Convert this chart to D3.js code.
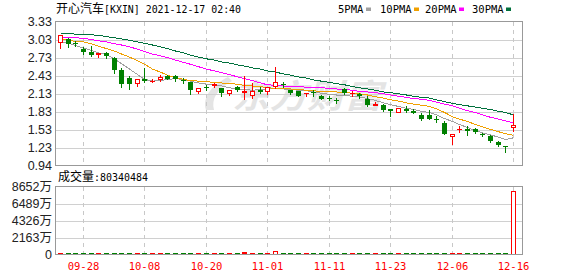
<!DOCTYPE html>
<html><head><meta charset="utf-8">
<script src="https://cdn.jsdelivr.net/npm/d3@7/dist/d3.min.js"></script>
<style>body{margin:0;background:#fff;} svg{display:block;}</style>
</head><body><svg id="c" width="578" height="276"></svg>
<script>
const dates = ["09-23","09-24","09-27","09-28","09-29","09-30","10-01","10-04","10-05","10-06",
"10-07","10-08","10-11","10-12","10-13","10-14","10-15","10-18","10-19","10-20",
"10-21","10-22","10-25","10-26","10-27","10-28","10-29","11-01","11-02","11-03",
"11-04","11-05","11-08","11-09","11-10","11-11","11-12","11-15","11-16","11-17",
"11-18","11-19","11-22","11-23","11-24","11-26","11-29","11-30","12-01","12-02",
"12-03","12-06","12-07","12-08","12-09","12-10","12-13","12-14","12-15","12-16"];
const open  = [2.97,3.04,2.97,2.88,2.83,2.78,2.80,2.72,2.53,2.39, 2.30,2.37,2.34,2.36,2.43,2.43,2.36,2.32,2.16,2.25,
               2.26,2.23,2.13,2.24,2.15,2.10,2.20,2.16,2.25,2.30, 2.19,2.17,2.13,2.16,2.10,2.06,2.03,2.21,2.12,2.13,
               2.04,1.93,1.95,1.87,1.81,1.87,1.85,1.77,1.78,1.71, 1.65,1.41,1.54,1.55,1.54,1.47,1.43,1.33,1.27,1.56];
const close = [3.11,2.96,2.96,2.83,2.77,2.80,2.76,2.52,2.30,2.29, 2.37,2.34,2.35,2.41,2.38,2.37,2.35,2.19,2.22,2.23,
               2.29,2.15,2.19,2.19,2.17,2.17,2.16,2.24,2.32,2.28, 2.15,2.10,2.15,2.14,2.05,2.04,2.02,2.14,2.14,2.09,
               1.95,1.96,1.86,1.84,1.89,1.85,1.81,1.72,1.72,1.70, 1.47,1.46,1.55,1.52,1.49,1.44,1.34,1.28,1.25,1.62];
const high  = [3.11,3.05,3.01,2.91,2.93,2.80,2.83,2.74,2.56,2.42, 2.37,2.56,2.37,2.45,2.44,2.44,2.39,2.33,2.23,2.27,
               2.31,2.23,2.20,2.26,2.43,2.31,2.24,2.25,2.58,2.32, 2.20,2.18,2.15,2.19,2.11,2.09,2.06,2.22,2.17,2.15,
               2.09,1.99,1.96,1.88,1.90,1.92,1.88,1.81,1.86,1.76, 1.68,1.46,1.60,1.60,1.56,1.48,1.44,1.34,1.27,1.80];
const low   = [2.89,2.91,2.92,2.79,2.76,2.74,2.73,2.48,2.24,2.21, 2.26,2.32,2.33,2.34,2.37,2.35,2.31,2.13,2.14,2.20,
               2.25,2.09,2.11,2.17,2.04,2.06,2.14,2.13,2.23,2.25, 2.13,2.09,2.10,2.10,2.04,2.02,1.98,2.13,2.09,2.06,
               1.92,1.93,1.85,1.76,1.81,1.82,1.81,1.70,1.71,1.66, 1.47,1.29,1.50,1.44,1.48,1.43,1.33,1.27,1.16,1.52];
const volume = [1500000,900000,600000,800000,700000,500000,700000,1600000,1800000,1100000,
                800000,1300000,600000,700000,500000,600000,500000,1200000,700000,500000,
                600000,900000,700000,600000,3200000,1500000,700000,900000,4300000,1000000,
                800000,900000,600000,500000,700000,600000,500000,800000,600000,700000,
                1200000,600000,900000,800000,700000,500000,500000,900000,800000,600000,
                1700000,1400000,800000,700000,600000,500000,900000,700000,1100000,80340484];
const ma5  = [3.00,2.97,2.93,2.89,2.85,2.81,2.78,2.71,2.63,2.54, 2.45,2.37,2.34,2.35,2.37,2.38,2.37,2.34,2.31,2.29,
              2.28,2.26,2.23,2.21,2.20,2.19,2.20,2.21,2.22,2.21, 2.20,2.19,2.18,2.16,2.14,2.12,2.11,2.10,2.09,2.08,
              2.05,2.02,1.98,1.95,1.92,1.89,1.87,1.84,1.82,1.78, 1.72,1.67,1.62,1.57,1.52,1.48,1.45,1.41,1.37,1.40];
const ma10 = [3.04,3.02,3.00,2.99,2.96,2.92,2.88,2.84,2.79,2.74, 2.68,2.62,2.54,2.49,2.44,2.40,2.37,2.35,2.34,2.33,
              2.32,2.31,2.30,2.29,2.27,2.26,2.25,2.23,2.22,2.21, 2.21,2.20,2.19,2.18,2.17,2.16,2.16,2.15,2.14,2.13,
              2.11,2.08,2.06,2.03,2.01,1.98,1.96,1.94,1.92,1.88, 1.82,1.75,1.71,1.67,1.62,1.58,1.54,1.50,1.47,1.44];
const ma20 = [3.07,3.06,3.06,3.05,3.03,3.01,2.99,2.96,2.94,2.91, 2.87,2.83,2.79,2.76,2.73,2.69,2.65,2.62,2.58,2.54,
              2.51,2.48,2.45,2.41,2.38,2.35,2.31,2.28,2.27,2.26, 2.25,2.25,2.24,2.24,2.23,2.22,2.21,2.20,2.19,2.17,
              2.16,2.15,2.13,2.11,2.09,2.07,2.05,2.04,2.02,1.99, 1.96,1.93,1.89,1.85,1.82,1.78,1.74,1.71,1.68,1.65];
const ma30 = [3.13,3.13,3.12,3.12,3.11,3.10,3.08,3.06,3.04,3.02, 2.99,2.97,2.94,2.91,2.88,2.84,2.81,2.77,2.74,2.71,
              2.69,2.66,2.64,2.61,2.59,2.56,2.54,2.51,2.49,2.46, 2.44,2.41,2.39,2.36,2.34,2.32,2.30,2.28,2.25,2.23,
              2.21,2.19,2.16,2.15,2.13,2.11,2.09,2.07,2.06,2.03, 2.00,1.97,1.95,1.93,1.91,1.89,1.87,1.84,1.82,1.78];
const priceTicks = [0.94,1.23875,1.5375,1.83625,2.135,2.43375,2.7325,3.03125,3.33];
const priceTickLabels = ["0.94","1.23","1.53","1.83","2.13","2.43","2.73","3.03","3.33"];
const volTicks = [0,21630000,43260000,64890000,86520000];
const volTickLabels = ["0","2163万","4326万","6489万","8652万"];
const dateTicks = ["09-28","10-08","10-20","11-01","11-11","11-23","12-06","12-16"];
const maNames = ["5PMA","10PMA","20PMA","30PMA"];
const maSeries = [ma5, ma10, ma20, ma30];
const maColors = ["#a0a0a0","#f0a000","#ff00ff","#00703c"];
const titleName = "开心汽车";
const titleRest = "[KXIN] 2021-12-17 02:40";
const volLabel = "成交量";
const volValue = ":80340484";

const RED = "#ff0000", GREEN = "#008000";
const svg = d3.select("#c");
const L = 55.5, R = 522.5;
const pT = 21.5, pB = 165.5, vT = 186.5, vB = 254.5;
const idx = d3.range(dates.length);
const x = d3.scaleBand().domain(idx).range([56, 517]);
const cx = i => Math.round(x(i) + x.bandwidth()/2) + 0.5;
const y = d3.scaleLinear().domain([0.94, 3.33]).range([pB, pT]);
const yv = d3.scaleLinear().domain([0, 86520000]).range([vB, vT]);
const py = v => Math.round(y(v)) + 0.5;

svg.append("rect").attr("width",578).attr("height",276).attr("fill","#fff");

// watermark
const wm = svg.append("g").attr("fill","#e4e4e4");
wm.append("path").attr("d","M228 77 C212 85 202 97 206 110 L214 110 C211 99 217 89 232 81 Z");
wm.append("text").attr("x",232).attr("y",108).attr("font-family","Noto Sans CJK SC")
  .attr("font-weight","bold").attr("font-style","italic").attr("font-size",33)
  .attr("textLength",150).attr("lengthAdjust","spacingAndGlyphs").text("东方财富");

// grid
const grid = svg.append("g").attr("shape-rendering","crispEdges");
priceTicks.slice(1,-1).forEach(t => {
  grid.append("line").attr("x1",L).attr("x2",R).attr("y1",py(t)).attr("y2",py(t)).attr("stroke","#d0d0d0");
});
volTicks.slice(1,-1).forEach(t => {
  const yy = Math.round(yv(t)) + 0.5;
  grid.append("line").attr("x1",L).attr("x2",R).attr("y1",yy).attr("y2",yy).attr("stroke","#d0d0d0");
});
dateTicks.forEach(d => {
  const i = dates.indexOf(d);
  [[pT,pB],[vT,vB]].forEach(([a,b]) => {
    grid.append("line").attr("x1",cx(i)).attr("x2",cx(i)).attr("y1",a).attr("y2",b)
      .attr("stroke","#c8c8c8").attr("stroke-dasharray","4,4");
  });
});

// MA lines
maSeries.forEach((s,k) => {
  const line = d3.line().x((d,i) => cx(i)).y(d => y(d));
  svg.append("path").attr("d", line(s)).attr("fill","none").attr("stroke",maColors[k])
    .attr("stroke-width",1).attr("shape-rendering","crispEdges");
});

// candles
const cg = svg.append("g").attr("shape-rendering","crispEdges");
idx.forEach(i => {
  const up = close[i] >= open[i];
  const c = cx(i);
  const top = Math.round(y(Math.max(open[i],close[i])));
  const bot = Math.round(y(Math.min(open[i],close[i])));
  const hi = Math.round(y(high[i])), lo = Math.round(y(low[i]));
  if (up) {
    if (hi < top) cg.append("line").attr("x1",c).attr("x2",c).attr("y1",hi).attr("y2",top).attr("stroke",RED);
    if (lo > bot) cg.append("line").attr("x1",c).attr("x2",c).attr("y1",bot).attr("y2",lo+1).attr("stroke",RED);
    const h = Math.max(bot - top, 1);
    if (bot - top >= 2) {
      cg.append("rect").attr("x",c-2).attr("y",top+0.5).attr("width",4).attr("height",h-1)
        .attr("fill","#fff").attr("stroke",RED);
    } else {
      cg.append("rect").attr("x",c-2.5).attr("y",top).attr("width",5).attr("height",Math.max(h,1)).attr("fill",RED);
    }
  } else {
    cg.append("line").attr("x1",c).attr("x2",c).attr("y1",hi).attr("y2",lo+1).attr("stroke",GREEN);
    cg.append("rect").attr("x",c-2.5).attr("y",top).attr("width",5).attr("height",Math.max(bot-top,1)).attr("fill",GREEN);
  }
});

// volume bars
const vg = svg.append("g").attr("shape-rendering","crispEdges");
idx.forEach(i => {
  const up = close[i] >= open[i];
  const c = cx(i);
  const t = Math.round(yv(volume[i]));
  const h = Math.max(254 - t, 1);
  if (up && h >= 3) {
    vg.append("rect").attr("x",c-2).attr("y",254-h+0.5).attr("width",4).attr("height",h-0.5)
      .attr("fill","#fff").attr("stroke",RED);
  } else {
    vg.append("rect").attr("x",c-2.5).attr("y",253-h+1).attr("width",5).attr("height",h)
      .attr("fill",up?RED:GREEN);
  }
});

// borders
const bd = svg.append("g").attr("fill","none").attr("stroke","#999").attr("shape-rendering","crispEdges");
bd.append("rect").attr("x",L).attr("y",pT).attr("width",R-L).attr("height",pB-pT);
bd.append("rect").attr("x",L).attr("y",vT).attr("width",R-L).attr("height",vB-vT);

// y labels
const lab = svg.append("g").attr("font-family","Liberation Sans, Arial, sans-serif").attr("font-size",12.5)
  .attr("fill","#222").attr("text-anchor","end");
priceTicks.forEach((t,k) => {
  lab.append("text").attr("x",52).attr("y",y(t)).attr("dy","0.36em").text(priceTickLabels[k]);
});
volTicks.forEach((t,k) => {
  lab.append("text").attr("x",52).attr("y",yv(t)).attr("dy","0.36em")
    .attr("font-family","Liberation Sans, Noto Sans CJK SC, sans-serif").text(volTickLabels[k]);
});

// date labels
const dl = svg.append("g").attr("font-family","DejaVu Sans Mono, monospace").attr("font-size",10.5)
  .attr("fill",RED).attr("text-anchor","middle");
dateTicks.forEach(d => {
  dl.append("text").attr("x",cx(dates.indexOf(d))).attr("y",270).text(d);
});

// title
const tt = svg.append("text").attr("x",56).attr("y",13).attr("fill","#000");
tt.append("tspan").attr("font-family","Noto Sans CJK SC").attr("font-size",12).text(titleName);
tt.append("tspan").attr("font-family","DejaVu Sans Mono, monospace").attr("font-size",10.5)
  .attr("textLength",137).attr("lengthAdjust","spacingAndGlyphs").text(titleRest);

// volume title
const vt = svg.append("text").attr("x",58).attr("y",181).attr("fill","#000");
vt.append("tspan").attr("font-family","Noto Sans CJK SC").attr("font-size",12).text(volLabel);
vt.append("tspan").attr("font-family","DejaVu Sans Mono, monospace").attr("font-size",10.5)
  .attr("textLength",54).attr("lengthAdjust","spacingAndGlyphs").text(volValue);

// legend
const legX = [338,380,425,472];
maNames.forEach((n,k) => {
  svg.append("text").attr("x",legX[k]).attr("y",12.5).attr("font-family","DejaVu Sans Mono, monospace")
    .attr("font-size",10.5).attr("fill","#000").text(n);
  const w = n.length * 6;
  svg.append("rect").attr("x",legX[k]+w+4).attr("y",7.5).attr("width",5).attr("height",3.5).attr("fill",maColors[k]);
});
</script></body></html>
